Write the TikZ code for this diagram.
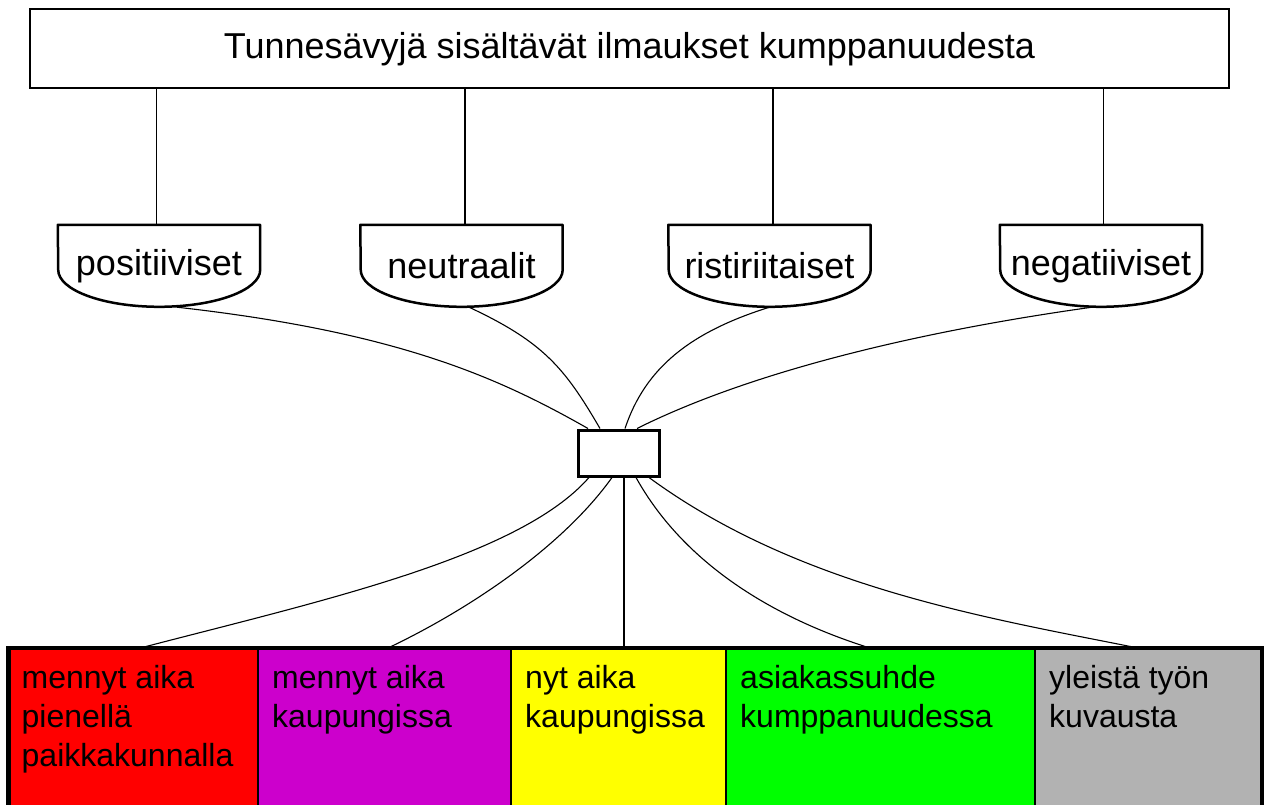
\documentclass[tikz,border=0pt]{standalone}
\usepackage{fontspec}
\setmainfont{Liberation Sans}
\usetikzlibrary{positioning}
\usetikzlibrary{calc}

\definecolor{cellred}{HTML}{FF0000}
\definecolor{cellpurple}{HTML}{CC00CC}
\definecolor{cellyellow}{HTML}{FFFF00}
\definecolor{cellgreen}{HTML}{00FF00}
\definecolor{cellgray}{HTML}{B2B2B2}

\tikzset{
    titlebox/.style  = {draw, line width=2.5pt, minimum width=1199pt, minimum height=79pt,
                        font=\fontsize{36}{43}\selectfont},
    shieldtext/.style = {minimum width=202pt, minimum height=82pt, inner sep=0pt,
                        font=\fontsize{36}{43}\selectfont},
    shieldline/.style = {line width=2.5pt, line join=round},
    hubbox/.style    = {draw, line width=3pt, minimum width=81pt, minimum height=46pt, inner sep=0pt},
    cell/.style      = {draw, line width=1.5pt, minimum height=200pt, inner sep=0pt, outer sep=0pt},
    celltext/.style  = {anchor=north west, align=left, inner sep=0pt,
                        font=\fontsize{32}{39}\selectfont},
    link/.style      = {line width=1.1pt}
}

% shield outline round a named node
\newcommand{\shieldpath}[1]{%
    \draw[shieldline] (#1.north west) -- (#1.north east) -- ++(0,45)
        arc[start angle=0, end angle=180, x radius=101, y radius=37] -- cycle;}

\begin{document}
\begin{tikzpicture}[x=1pt, y=-1pt]
    \clip (0,0) rectangle (1265,805);

    \node[titlebox] (title) at (629.5,48.7) {Tunnesävyjä sisältävät ilmaukset kumppanuudesta};

    \node[shieldtext] (pos) at (159,266)   {positiiviset};
    \node[shieldtext] (neu) at (461.5,266) {neutraalit};
    \node[shieldtext] (ris) at (769.5,266) {ristiriitaiset};
    \node[shieldtext] (neg) at (1101,266)  {negatiiviset};
    \foreach \s/\dx in {pos/-2.5,neu/3.5,ris/3.5,neg/2.5} {
        \shieldpath{\s}
        \draw[link] ([xshift=\dx pt]\s.north) -- ([xshift=\dx pt]\s.north |- title.south);
    }

    \node[hubbox] (hub) at (618.5,453) {};

    % bottom row
    \node[cell, fill=cellred, minimum width=249.5pt, anchor=north west] (small) at (8.5,648) {};
    \node[cell, fill=cellpurple, minimum width=253pt, right=0pt of small] (city) {};
    \node[cell, fill=cellyellow, minimum width=215pt, right=0pt of city] (now) {};
    \node[cell, fill=cellgreen, minimum width=309pt, right=0pt of now] (client) {};
    \node[cell, fill=cellgray, minimum width=227pt, right=0pt of client] (general) {};
    \draw[line width=4.5pt] (small.north west) rectangle (general.south east);

    \node[celltext] (smalltext)   at ([xshift=13pt, yshift=-16.7pt]small.north west)   {mennyt aika\\pienellä\\paikkakunnalla};
    \node[celltext] (citytext)    at ([xshift=14pt, yshift=-16.7pt]city.north west)    {mennyt aika\\kaupungissa};
    \node[celltext] (nowtext)     at ([xshift=14pt, yshift=-16.7pt]now.north west)     {nyt aika\\kaupungissa};
    \node[celltext] (clienttext)  at ([xshift=14pt, yshift=-16.7pt]client.north west)  {asiakassuhde\\kumppanuudessa};
    \node[celltext] (generaltext) at ([xshift=14pt, yshift=-16.7pt]general.north west) {yleistä työn\\kuvausta};

    % shields to hub
    \draw[link] ([xshift=18pt]pos.south)  .. controls +(223,25)  and +(-88,-50) .. ([xshift=-30.5pt]hub.north);
    \draw[link] ([xshift=7.5pt]neu.south) .. controls +(75,35)   and +(-35,-60) .. ([xshift=-18.5pt]hub.north);
    \draw[link] (ris.south)               .. controls +(-80,25)  and +(20,-60)  .. ([xshift=6.5pt]hub.north);
    \draw[link] ([xshift=-9pt]neg.south)  .. controls +(-200,28) and +(100,-50) .. ([xshift=18.5pt]hub.north);

    % hub to bottom row
    \draw[link] ([xshift=-29.5pt]hub.south) .. controls +(-70,80) and +(180,-47) .. ([xshift=7pt]small.north);
    \draw[link] ([xshift=-6.5pt]hub.south)  .. controls +(-50,70) and +(80,-38)  .. ([xshift=3.5pt]city.north);
    \draw[link] ([xshift=5.5pt]hub.south) -- ([xshift=5.5pt]hub.south |- now.north);
    \draw[link] ([xshift=17.5pt]hub.south)  .. controls +(50,90)  and +(-90,-28) .. ([xshift=-10.5pt]client.north);
    \draw[link] ([xshift=30.5pt]hub.south)  .. controls +(150,110) and +(-150,-30) .. ([xshift=-10.5pt]general.north);
\end{tikzpicture}
\end{document}
